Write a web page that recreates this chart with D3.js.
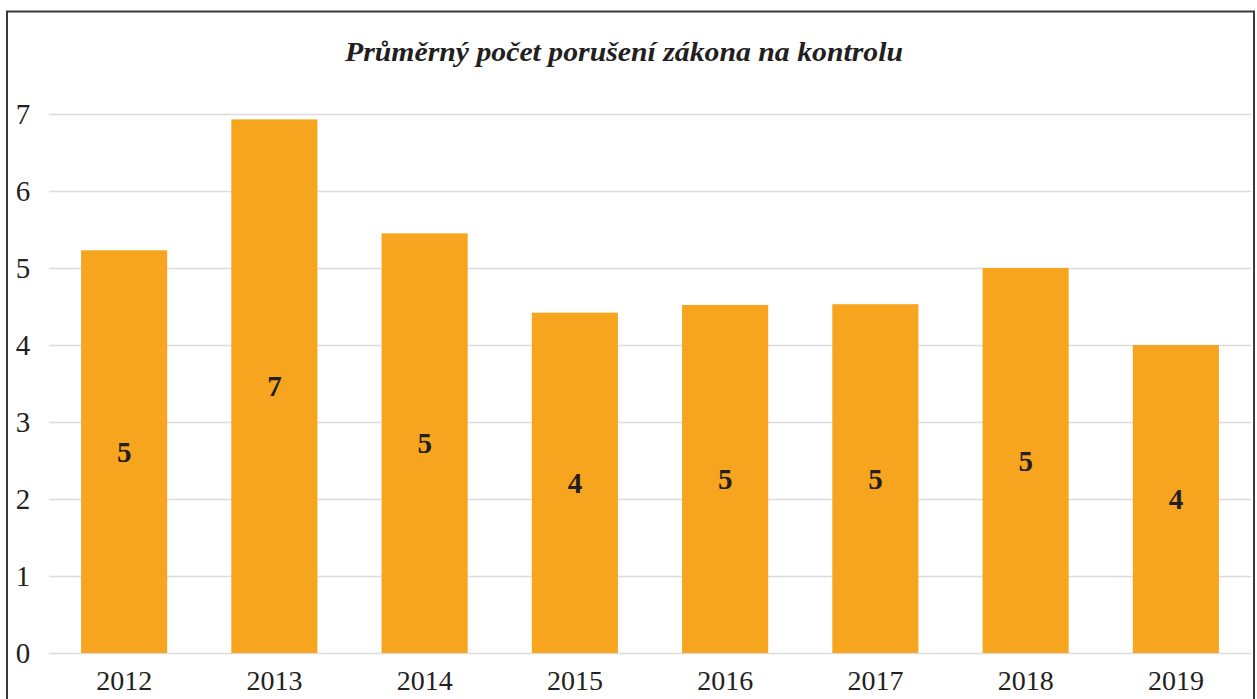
<!DOCTYPE html>
<html>
<head>
<meta charset="utf-8">
<script src="https://cdn.jsdelivr.net/npm/d3@7"></script>
<style>
	body { margin: 0; background: #fff; }
	text { font-family: "Liberation Serif", "DejaVu Serif", serif; fill: #231f20; }
</style>
</head>
<body>
<div id="chart"></div>
<script>

var years = ["2012", "2013", "2014", "2015", "2016", "2017", "2018", "2019"];
var values = [5.23, 6.93, 5.45, 4.42, 4.52, 4.53, 5.0, 4.0];
var yTicks = [0, 1, 2, 3, 4, 5, 6, 7];
var title = "Průměrný počet porušení zákona na kontrolu";

var width = 1257;
var height = 699;

var svg = d3.select("#chart")
		.append("svg")
		.attr("width", width)
		.attr("height", height);

// frame
svg.append("rect")
	.attr("x", 7)
	.attr("y", 11.5)
	.attr("width", 1247)
	.attr("height", 700)
	.attr("fill", "white")
	.attr("stroke", "#3a3a3a")
	.attr("stroke-width", 2);

var xScale = d3.scaleBand()
		.domain(years)
		.range([49, 1251])
		.paddingInner(0.427)
		.paddingOuter(0.2135);

var yScale = d3.scaleLinear()
		.domain([0, 7])
		.range([653, 114]);

// gridlines
svg.selectAll(".grid")
	.data(yTicks)
	.enter()
	.append("line")
	.attr("class", "grid")
	.attr("x1", 49)
	.attr("x2", 1251)
	.attr("y1", function(d) { return Math.round(yScale(d)) + 0.5; })
	.attr("y2", function(d) { return Math.round(yScale(d)) + 0.5; })
	.attr("stroke", "#dcdcdc")
	.attr("stroke-width", 1.3);

svg.selectAll(".bar")
	.data(values)
	.enter()
	.append("rect")
	.attr("class", "bar")
	.attr("x", function(d, i) { return xScale(years[i]); })
	.attr("y", function(d) { return yScale(d); })
	.attr("width", xScale.bandwidth())
	.attr("height", function(d) { return yScale(0) - yScale(d); })
	.attr("fill", "#f7a51e");

// y axis labels
svg.selectAll(".ylab")
	.data(yTicks)
	.enter()
	.append("text")
	.attr("class", "ylab")
	.attr("x", 23)
	.attr("y", function(d) { return yScale(d) + 10; })
	.attr("text-anchor", "middle")
	.attr("font-size", 29)
	.text(function(d) { return d; });

// x axis labels
svg.selectAll(".xlab")
	.data(years)
	.enter()
	.append("text")
	.attr("class", "xlab")
	.attr("x", function(d) { return xScale(d) + xScale.bandwidth() / 2; })
	.attr("y", 690)
	.attr("text-anchor", "middle")
	.attr("font-size", 28)
	.text(function(d) { return d; });

// value labels
svg.selectAll(".vlab")
	.data(values)
	.enter()
	.append("text")
	.attr("class", "vlab")
	.attr("x", function(d, i) { return xScale(years[i]) + xScale.bandwidth() / 2; })
	.attr("y", function(d) { return (yScale(d) + yScale(0)) / 2 + 10; })
	.attr("text-anchor", "middle")
	.attr("font-size", 29)
	.attr("font-weight", "bold")
	.text(function(d) { return Math.round(d); });

svg.append("text")
	.attr("x", 624)
	.attr("y", 61)
	.attr("text-anchor", "middle")
	.attr("font-size", 28)
	.attr("font-weight", "bold")
	.attr("font-style", "italic")
	.attr("textLength", 558)
	.attr("lengthAdjust", "spacingAndGlyphs")
	.text(title);

</script>
</body>
</html>
